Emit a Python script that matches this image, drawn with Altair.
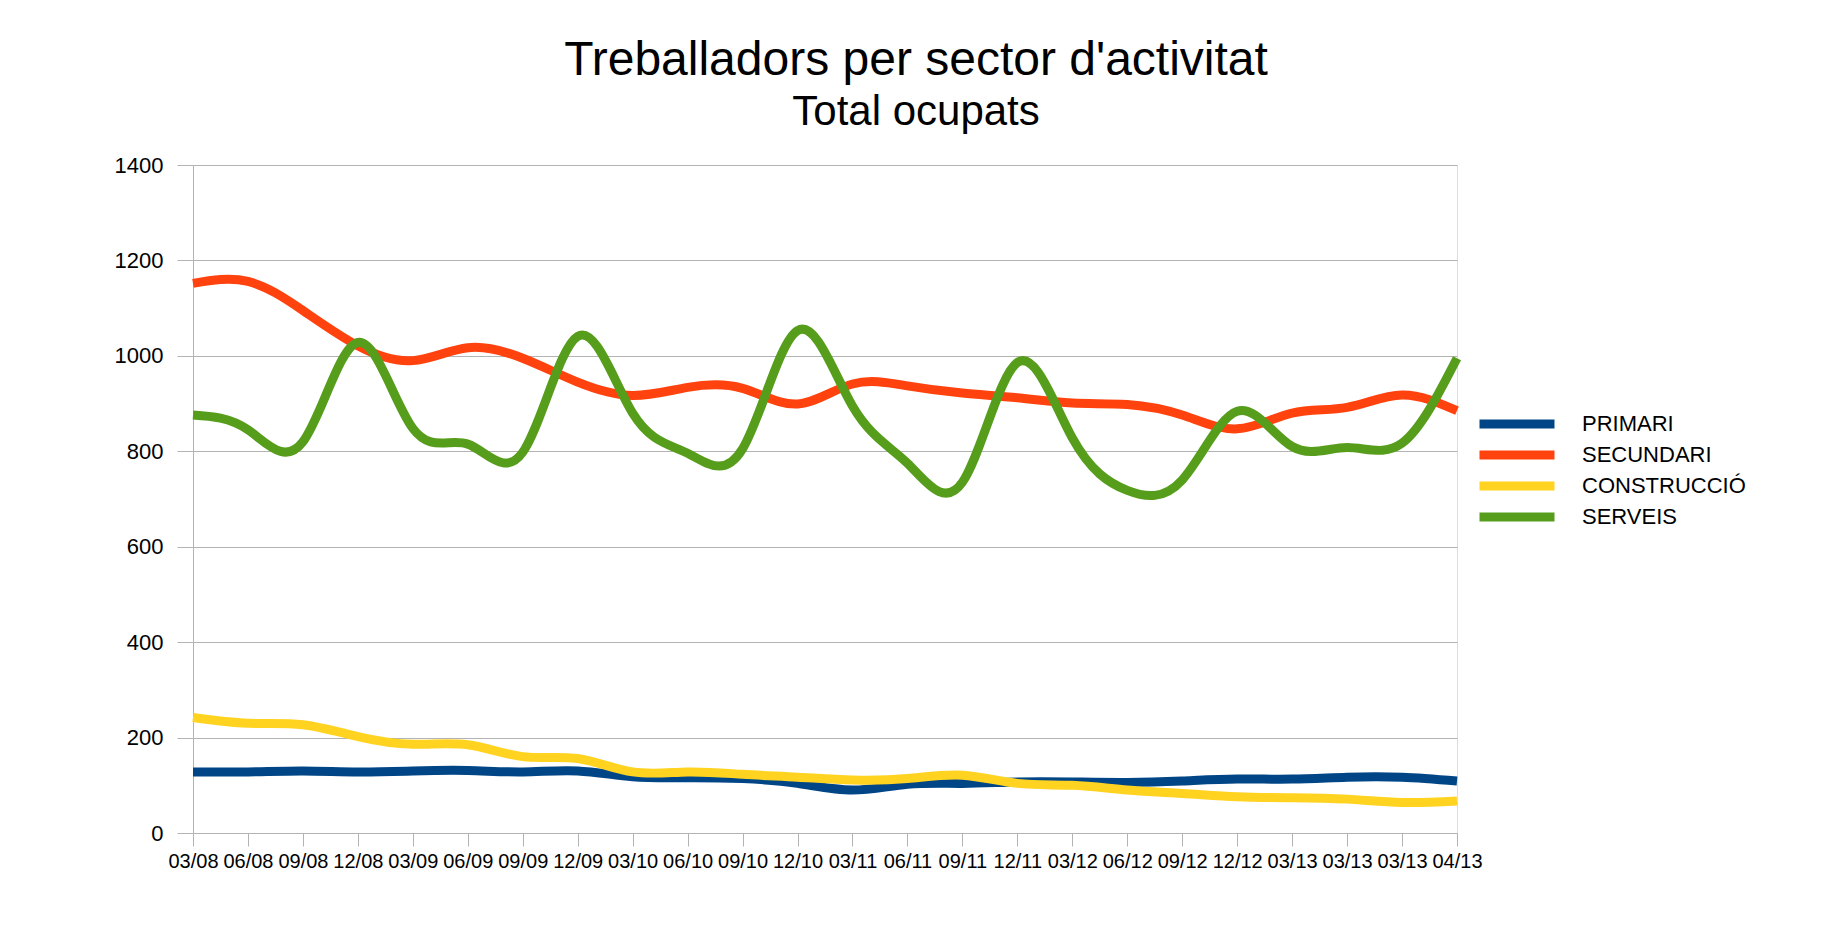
import altair as alt
import pandas as pd

labels = ["03/08", "06/08", "09/08", "12/08", "03/09", "06/09", "09/09", "12/09",
          "03/10", "06/10", "09/10", "12/10", "03/11", "06/11", "09/11", "12/11",
          "03/12", "06/12", "09/12", "12/12", "03/13", "03/13", "03/13", "04/13"]

series = ["PRIMARI", "SECUNDARI", "CONSTRUCCIÓ", "SERVEIS"]
colors = ["#004586", "#ff420e", "#ffd320", "#579d1c"]

primari = [128, 128, 130, 128, 130, 131, 128, 130, 118, 116, 114, 104,
           90, 102, 104, 107, 107, 106, 109, 113, 113, 117, 117, 109]
secundari = [1152, 1156, 1095, 1021, 990, 1017, 995, 945, 917, 934, 932, 899,
             941, 937, 922, 912, 901, 898, 876, 847, 880, 892, 918, 885]
construccio = [242, 230, 227, 202, 186, 185, 160, 156, 128, 128, 123, 117,
               111, 114, 121, 104, 100, 90, 83, 76, 74, 71, 64, 67]
serveis = [876, 845, 820, 1028, 848, 815, 798, 1041, 880, 796, 805, 1053,
           895, 775, 735, 986, 828, 718, 740, 884, 810, 808, 817, 995]

rows = []
for k, (name, vals) in enumerate(zip(series, [primari, secundari, construccio, serveis])):
    for i, v in enumerate(vals):
        rows.append({"idx": i, "value": v, "sector": name, "ord": k})
df = pd.DataFrame(rows)

label_js = "[" + ",".join("'" + l + "'" for l in labels) + "]"
FONT = "Liberation Sans"
GRID = "#b3b3b3"

chart = alt.Chart(df).mark_line(
    interpolate="natural", strokeWidth=9, strokeCap="butt", strokeJoin="round"
).encode(
    x=alt.X("idx:Q",
            scale=alt.Scale(domain=[0, len(labels) - 1], nice=False, zero=False),
            axis=alt.Axis(values=list(range(len(labels))),
                          labelExpr=label_js + "[datum.value]",
                          title=None, grid=False, tickSize=13, labelPadding=5,
                          labelFontSize=20, labelFont=FONT, labelColor="#000000",
                          tickColor=GRID, domainColor=GRID, labelOverlap=False,
                          labelFlush=False)),
    y=alt.Y("value:Q",
            scale=alt.Scale(domain=[0, 1400], nice=False),
            axis=alt.Axis(values=list(range(0, 1401, 200)), title=None, format="d",
                          tickSize=16, labelPadding=14, labelFontSize=22,
                          labelFont=FONT, labelColor="#000000",
                          gridColor=GRID, tickColor=GRID, domainColor=GRID)),
    color=alt.Color("sector:N",
                    scale=alt.Scale(domain=series, range=colors),
                    sort=series,
                    legend=alt.Legend(title=None, orient="none", legendX=1313, legendY=248,
                                      symbolType="M-7.5,0H7.5", symbolSize=100,
                                      symbolStrokeWidth=9, labelFontSize=22,
                                      labelFont=FONT, labelColor="#000000",
                                      labelLimit=400, labelOffset=54, rowPadding=-5)),
    order=alt.Order("ord:Q"),
).properties(
    width=1264,
    height=668,
    padding={"left": 106, "top": 29, "right": 10, "bottom": 10},
    title=alt.TitleParams(
        text="Treballadors per sector d'activitat",
        subtitle="Total ocupats",
        fontSize=48, subtitleFontSize=42,
        font=FONT, subtitleFont=FONT,
        fontWeight="normal", color="#000000", subtitleColor="#000000",
        anchor="middle", frame="bounds", dx=-14,
        offset=21, subtitlePadding=7,
    ),
).configure_view(
    stroke=GRID, strokeWidth=1
).configure(background="#ffffff")

chart.save("out.html", embed_options={"renderer": "svg", "actions": False})
